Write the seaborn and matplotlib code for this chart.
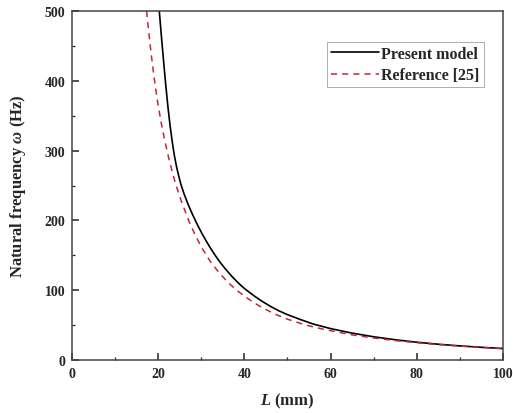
import pandas as pd
import matplotlib.pyplot as plt
import seaborn as sns
from matplotlib.ticker import MultipleLocator

# Values
L_present = [20.25, 20.75, 21.25, 21.75, 22.25, 22.75, 23.25, 23.75, 24.25, 24.75,
             25.25, 26, 27, 28, 29, 30, 31, 32, 33, 34, 35, 36, 37, 38, 39, 40,
             42, 44, 46, 48, 50, 53, 56, 60, 65, 70, 75, 80, 85, 90, 95, 100]
freq_present = [500, 463, 428, 394, 363, 336, 313, 293, 277, 264,
                252, 238, 222, 208, 195, 183, 172, 161.5, 152, 143, 135, 127.5, 120.5, 114, 108, 102.5,
                93, 84.5, 77, 70.5, 65, 58, 51.5, 45, 38.5, 33.3, 29, 25.5, 22.6, 20.2, 18.2, 16.5]

L_ref = [17.3, 17.8, 18.4, 19.0, 19.8, 20.6, 21.5, 22.6, 24, 25.4, 27, 28.5, 30,
         32, 34, 36, 38, 40, 42, 44, 47, 50, 54, 58, 60, 65, 70, 75, 80, 85, 90, 95, 100]
freq_ref = [500, 470, 437, 407, 372, 343, 315, 285, 253, 227, 201, 180, 162,
            142, 126, 112.5, 101, 91.5, 83, 75.5, 66, 58.5, 50.5, 44.5, 42, 36, 31.5,
            27.8, 24.8, 22.2, 20, 18, 16.2]

df_present = pd.DataFrame({"L": L_present, "freq": freq_present})
df_ref = pd.DataFrame({"L": L_ref, "freq": freq_ref})

sns.set_style("ticks")
plt.rcParams["font.family"] = ["Liberation Serif", "DejaVu Serif"]
plt.rcParams["font.weight"] = "bold"
plt.rcParams["mathtext.fontset"] = "custom"
plt.rcParams["mathtext.rm"] = "Liberation Serif"
plt.rcParams["mathtext.it"] = "Liberation Serif:italic"
plt.rcParams["mathtext.bf"] = "Liberation Serif:bold"
plt.rcParams["mathtext.bfit"] = "Liberation Serif:italic:bold"

fig = plt.figure(figsize=(5.13, 4.14), dpi=100)
ax = fig.add_axes([0.1404, 0.128, 0.840, 0.843])

sns.lineplot(data=df_present, x="L", y="freq", color="black", linewidth=1.2,
             label="Present model", ax=ax)
sns.lineplot(data=df_ref, x="L", y="freq", color="#c0283a", linewidth=1.1,
             linestyle=(0, (4, 3.3)), label="Reference [25]", ax=ax)

ax.set_xlim(0, 100)
ax.set_ylim(0, 500)
ax.xaxis.set_major_locator(MultipleLocator(20))
ax.xaxis.set_minor_locator(MultipleLocator(10))
ax.yaxis.set_major_locator(MultipleLocator(100))
ax.yaxis.set_minor_locator(MultipleLocator(50))
ax.tick_params(which="both", direction="in", top=False, right=False,
               labelsize=10, pad=5, color="#222222")
ax.tick_params(which="major", length=5, width=1.1)
ax.tick_params(which="minor", length=2.5, width=0.9)
for lab in ax.get_xticklabels() + ax.get_yticklabels():
    lab.set_fontweight("bold")

for side in ["top", "right", "left", "bottom"]:
    ax.spines[side].set_visible(True)
    ax.spines[side].set_color("#444444")
    ax.spines[side].set_linewidth(1.1)

ax.set_xlabel(r"$\mathbfit{L}$ $\mathrm{(mm)}$", fontsize=12, labelpad=8)
ax.set_ylabel(r"Natural frequency $\mathbfit{\omega}$ $\mathrm{(Hz)}$",
              fontsize=12, fontweight="bold", labelpad=12)

leg = ax.legend(loc="upper right", bbox_to_anchor=(0.955, 0.912), frameon=True,
                fancybox=False, borderpad=0.25, borderaxespad=0,
                handlelength=3.0, handletextpad=0.15, labelspacing=0.35,
                prop={"family": "Liberation Serif", "weight": "bold", "size": 11.5})
leg.get_frame().set_edgecolor("#888888")
leg.get_frame().set_linewidth(0.6)

fig.savefig("out.png", dpi=100)
